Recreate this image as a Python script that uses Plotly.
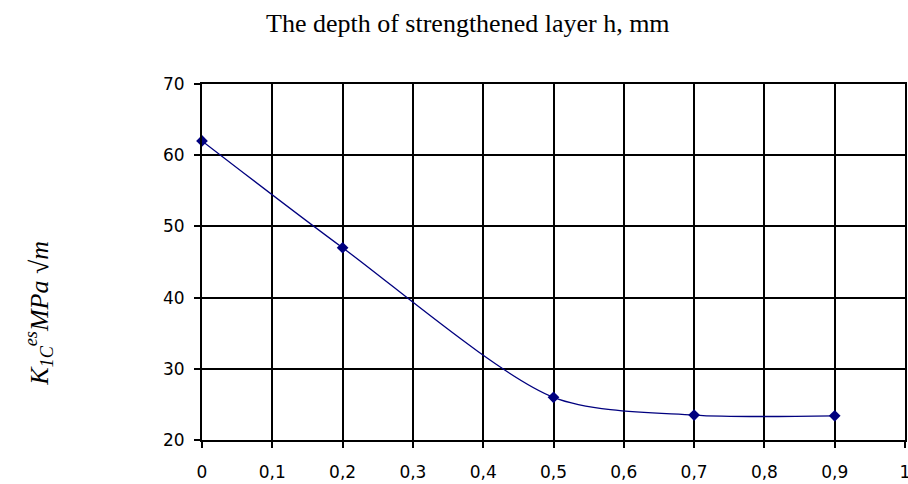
import plotly.graph_objects as go

depth_mm = [0, 0.2, 0.5, 0.7, 0.9]
k1c_values = [62, 47, 26, 23.5, 23.4]
x_ticks = [0, 0.1, 0.2, 0.3, 0.4, 0.5, 0.6, 0.7, 0.8, 0.9, 1]
x_tick_labels = ["0", "0,1", "0,2", "0,3", "0,4", "0,5", "0,6", "0,7", "0,8", "0,9", "1"]
y_ticks = [20, 30, 40, 50, 60, 70]

navy = "#00007F"

fig = go.Figure()
fig.add_trace(go.Scatter(
    x=depth_mm, y=k1c_values, mode="lines+markers",
    line=dict(color=navy, width=1.3, shape="spline", smoothing=0.8),
    marker=dict(symbol="diamond", size=9, color=navy),
    showlegend=False, cliponaxis=False,
))

tick_font = dict(family="DejaVu Sans", size=17, color="#000000")

fig.update_xaxes(
    range=[0, 1], tickvals=x_ticks, ticktext=x_tick_labels,
    showgrid=True, gridcolor="#000000", gridwidth=2,
    showline=True, linecolor="#000000", linewidth=2, mirror=True,
    ticks="outside", ticklen=6, tickcolor="#000000", tickwidth=2,
    tickfont=tick_font, zeroline=False, automargin=False,
    ticklabeloverflow="allow", ticklabelstandoff=10,
)
fig.update_yaxes(
    range=[20, 70], tickvals=y_ticks,
    showgrid=True, gridcolor="#000000", gridwidth=2,
    showline=True, linecolor="#000000", linewidth=2, mirror=True,
    ticks="outside", ticklen=6, tickcolor="#000000", tickwidth=2,
    tickfont=tick_font, zeroline=False, automargin=False,
    ticklabelstandoff=6,
)

fig.add_annotation(
    text="The depth of strengthened layer h, mm",
    xref="paper", yref="paper", x=0.378, y=1.171,
    xanchor="center", yanchor="middle", showarrow=False,
    font=dict(family="Liberation Serif", size=26, color="#000000"),
)
fig.add_annotation(
    text="<i>K<sub>1C</sub><sup>es</sup>MPa √m</i>",
    xref="paper", yref="paper", x=-0.232, y=0.357,
    xanchor="center", yanchor="middle", showarrow=False, textangle=-90,
    font=dict(family="Liberation Serif", size=26, color="#000000"),
)

fig.update_layout(
    width=908, height=484,
    margin=dict(l=202, r=3, t=84, b=44),
    paper_bgcolor="#FFFFFF", plot_bgcolor="#FFFFFF",
)

fig.write_html(
    "out.html",
    config={"displayModeBar": False},
    post_script="document.body.style.margin='0';document.body.style.overflow='hidden';",
)
